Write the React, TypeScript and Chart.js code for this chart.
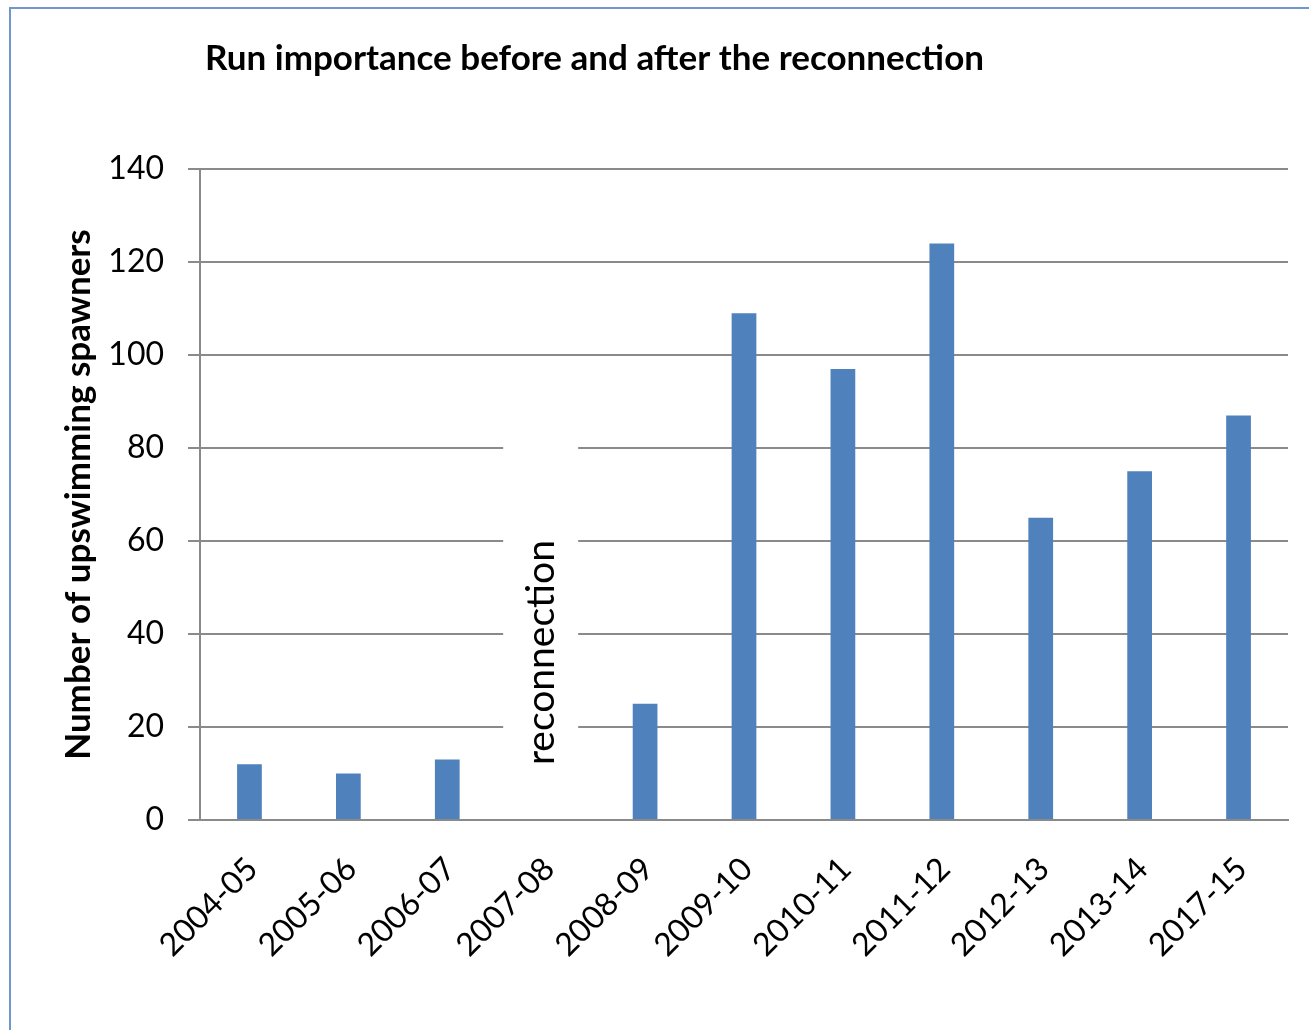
import React, { useEffect, useRef } from "react";
import { Chart, registerables } from "chart.js";

Chart.register(...registerables);

const seasons = [
  "2004-05",
  "2005-06",
  "2006-07",
  "2007-08",
  "2008-09",
  "2009-10",
  "2010-11",
  "2011-12",
  "2012-13",
  "2013-14",
  "2017-15",
];
const spawners: (number | null)[] = [12, 10, 13, null, 25, 109, 97, 124, 65, 75, 87];
const yMin = 0;
const yMax = 140;
const yStep = 20;

const chartTitle = "Run importance before and after the reconnection";
const yAxisTitle = "Number of upswimming spawners";
const eventLabel = "reconnection";
const eventSeason = "2007-08";

const FONT = "Lato";
const GRID = "#8a8a8a";
const BAR = "#4f81bd";

// Frame, chart title and the rotated event marker drawn straight on the canvas
const decorations = {
  id: "decorations",
  beforeDraw(chart: Chart) {
    const { ctx } = chart;
    ctx.save();
    ctx.fillStyle = "#ffffff";
    ctx.fillRect(0, 0, chart.width, chart.height);
    ctx.strokeStyle = "#7096cc";
    ctx.lineWidth = 2;
    ctx.strokeRect(10, 8, chart.width + 40, chart.height + 40);
    ctx.restore();
  },
  beforeDatasetsDraw(chart: Chart) {
    const { ctx } = chart;
    const x = chart.scales.x;
    const y = chart.scales.y;
    const idx = seasons.indexOf(eventSeason);
    const cx = x.getPixelForValue(idx);
    ctx.save();
    // blank out the gridlines behind the label
    ctx.fillStyle = "#ffffff";
    const top = y.getPixelForValue(90);
    const bottom = y.getPixelForValue(0) - 2;
    ctx.fillRect(cx - 43, top, 75, bottom - top);
    ctx.fillStyle = "#000000";
    ctx.font = `39px ${FONT}`;
    ctx.textAlign = "center";
    ctx.textBaseline = "middle";
    ctx.translate(cx - 5, y.getPixelForValue(36));
    ctx.rotate(-Math.PI / 2);
    ctx.fillText(eventLabel, 0, 0);
    ctx.restore();
  },
  afterDraw(chart: Chart) {
    const { ctx } = chart;
    ctx.save();
    ctx.fillStyle = "#000000";
    ctx.font = `bold 35px ${FONT}`;
    ctx.textAlign = "left";
    ctx.textBaseline = "alphabetic";
    ctx.fillText(chartTitle, 205, 70);
    ctx.restore();
  },
};

export default function App() {
  const canvasRef = useRef<HTMLCanvasElement | null>(null);

  useEffect(() => {
    document.body.style.margin = "0";
    const canvas = canvasRef.current;
    if (!canvas) return;
    const chart = new Chart(canvas, {
      type: "bar",
      data: {
        labels: seasons,
        datasets: [
          {
            data: spawners,
            backgroundColor: BAR,
            categoryPercentage: 1,
            barPercentage: 0.25,
          },
        ],
      },
      options: {
        responsive: false,
        animation: false,
        devicePixelRatio: 1,
        layout: { padding: { top: 169, right: 21, left: 0, bottom: 0 } },
        plugins: {
          legend: { display: false },
          title: { display: false },
          tooltip: { enabled: false },
        },
        scales: {
          x: {
            grid: { display: true, drawOnChartArea: false, drawTicks: false },
            border: { display: true, color: GRID, width: 2 },
            ticks: {
              autoSkip: false,
              maxRotation: 45,
              minRotation: 45,
              padding: 30,
              labelOffset: 3,
              color: "#000000",
              font: { family: FONT, size: 32 },
            },
            afterFit(scale: any) {
              scale.height = 210;
            },
          },
          y: {
            min: yMin,
            max: yMax,
            grid: { color: GRID, lineWidth: 2, tickLength: 12 },
            border: { display: true, color: GRID, width: 2 },
            ticks: {
              stepSize: yStep,
              padding: 24,
              color: "#000000",
              font: { family: FONT, size: 32 },
            },
            title: {
              display: true,
              text: yAxisTitle,
              color: "#000000",
              font: { family: FONT, size: 35, weight: "bold" },
              padding: { top: 58, bottom: 0 },
            },
            afterFit(scale: any) {
              scale.width = 200;
            },
          },
        },
      },
      plugins: [decorations],
    });
    return () => chart.destroy();
  }, []);

  return (
    <div style={{ width: 1309, height: 1030 }}>
      <canvas ref={canvasRef} width={1309} height={1030} />
    </div>
  );
}
